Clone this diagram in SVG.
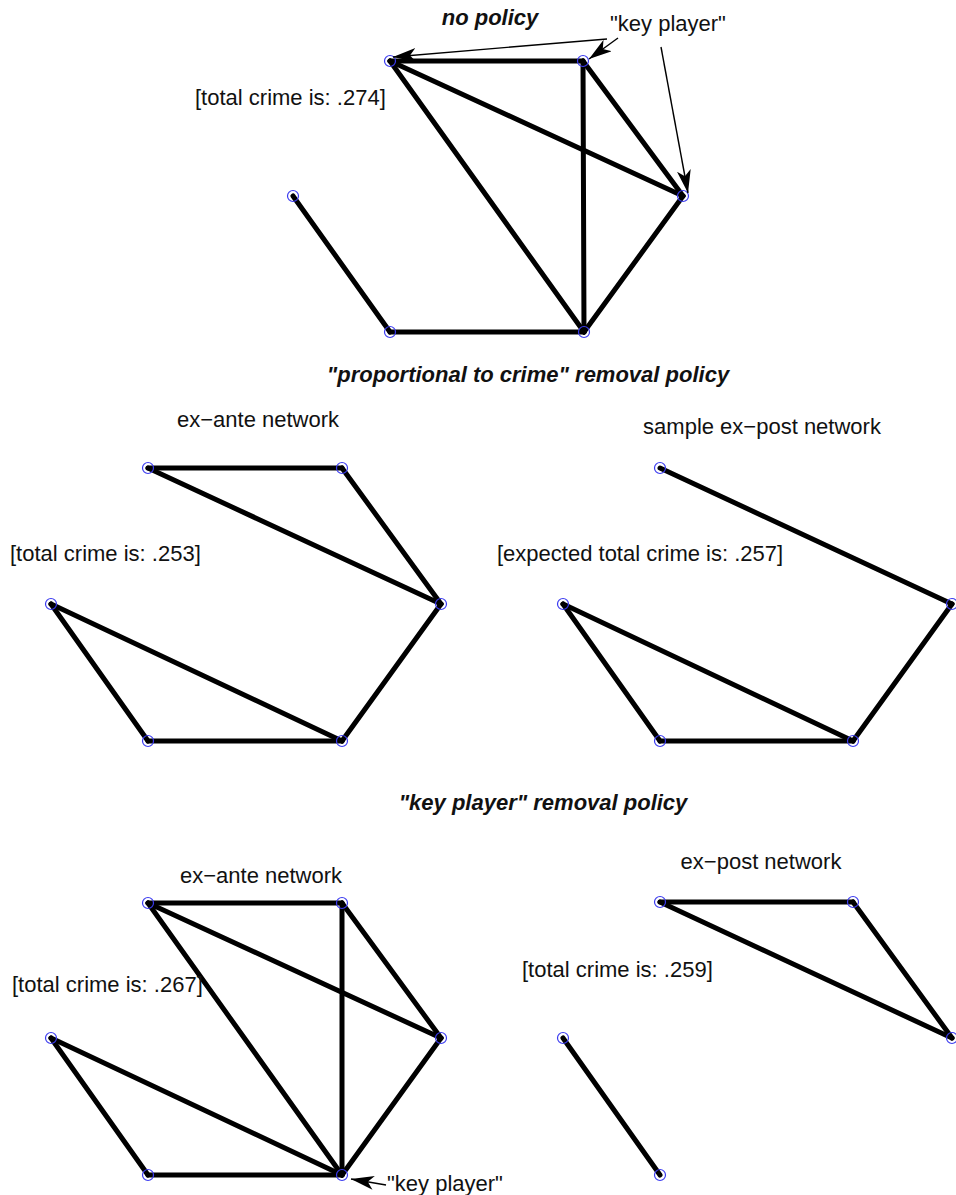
<svg xmlns="http://www.w3.org/2000/svg" width="956" height="1195" viewBox="0 0 956 1195">
<style>
.bg{fill:#ffffff}
.e{stroke:#000;stroke-width:5;stroke-linecap:round;fill:none}
.n{fill:none;stroke:#3b3bf0;stroke-width:1.2}
.lbl{font-family:"Liberation Sans",Arial,sans-serif;font-size:22px;fill:#111}
.ttl{font-family:"Liberation Sans",Arial,sans-serif;font-size:22px;font-weight:bold;font-style:italic;fill:#111}
.arr{stroke:#000;stroke-width:1.4;fill:none;marker-end:url(#ah)}
</style>
<defs>
<marker id="ah" markerUnits="userSpaceOnUse" markerWidth="24" markerHeight="14" viewBox="0 0 24 14" refX="23" refY="7" orient="auto">
<path d="M0,0 L23,7 L0,14 L6,7 Z" fill="#000"/>
</marker>
</defs>
<rect class="bg" x="0" y="0" width="956" height="1195"/>

<g id="connectors">
<line class="e" x1="390" y1="61" x2="583" y2="61"/>
<line class="e" x1="390" y1="61" x2="584" y2="332"/>
<line class="e" x1="390" y1="61" x2="683" y2="196"/>
<line class="e" x1="583" y1="61" x2="584" y2="332"/>
<line class="e" x1="583" y1="61" x2="683" y2="196"/>
<line class="e" x1="683" y1="196" x2="584" y2="332"/>
<line class="e" x1="293" y1="196" x2="390" y2="332"/>
<line class="e" x1="390" y1="332" x2="584" y2="332"/>
<line class="e" x1="148" y1="468" x2="342" y2="468"/>
<line class="e" x1="148" y1="468" x2="441" y2="604"/>
<line class="e" x1="342" y1="468" x2="441" y2="604"/>
<line class="e" x1="441" y1="604" x2="342" y2="741"/>
<line class="e" x1="51" y1="604" x2="342" y2="741"/>
<line class="e" x1="51" y1="604" x2="148" y2="741"/>
<line class="e" x1="148" y1="741" x2="342" y2="741"/>
<line class="e" x1="660" y1="468" x2="952" y2="604"/>
<line class="e" x1="952" y1="604" x2="853" y2="741"/>
<line class="e" x1="563" y1="604" x2="853" y2="741"/>
<line class="e" x1="563" y1="604" x2="660" y2="741"/>
<line class="e" x1="660" y1="741" x2="853" y2="741"/>
<line class="e" x1="148" y1="903" x2="342" y2="903"/>
<line class="e" x1="148" y1="903" x2="441" y2="1038"/>
<line class="e" x1="148" y1="903" x2="342" y2="1175"/>
<line class="e" x1="342" y1="903" x2="342" y2="1175"/>
<line class="e" x1="342" y1="903" x2="441" y2="1038"/>
<line class="e" x1="441" y1="1038" x2="342" y2="1175"/>
<line class="e" x1="51" y1="1038" x2="342" y2="1175"/>
<line class="e" x1="51" y1="1038" x2="148" y2="1175"/>
<line class="e" x1="148" y1="1175" x2="342" y2="1175"/>
<line class="e" x1="660" y1="902" x2="853" y2="902"/>
<line class="e" x1="660" y1="902" x2="952" y2="1038"/>
<line class="e" x1="853" y1="902" x2="952" y2="1038"/>
<line class="e" x1="563" y1="1038" x2="660" y2="1175"/>
</g>

<g id="nodes-top">
<circle id="t1" class="n" cx="390" cy="61" r="5.5"/>
<circle id="t2" class="n" cx="583" cy="61" r="5.5"/>
<circle id="t3" class="n" cx="683" cy="196" r="5.5"/>
<circle id="t4" class="n" cx="293" cy="196" r="5.5"/>
<circle id="t5" class="n" cx="390" cy="332" r="5.5"/>
<circle id="t6" class="n" cx="584" cy="332" r="5.5"/>
</g>
<g id="nodes-mid-left">
<circle id="m1" class="n" cx="148" cy="468" r="5.5"/>
<circle id="m2" class="n" cx="342" cy="468" r="5.5"/>
<circle id="m3" class="n" cx="441" cy="604" r="5.5"/>
<circle id="m4" class="n" cx="51" cy="604" r="5.5"/>
<circle id="m5" class="n" cx="148" cy="741" r="5.5"/>
<circle id="m6" class="n" cx="342" cy="741" r="5.5"/>
</g>
<g id="nodes-mid-right">
<circle id="r1" class="n" cx="660" cy="468" r="5.5"/>
<circle id="r3" class="n" cx="952" cy="604" r="5.5"/>
<circle id="r4" class="n" cx="563" cy="604" r="5.5"/>
<circle id="r5" class="n" cx="660" cy="741" r="5.5"/>
<circle id="r6" class="n" cx="853" cy="741" r="5.5"/>
</g>
<g id="nodes-bot-left">
<circle id="b1" class="n" cx="148" cy="903" r="5.5"/>
<circle id="b2" class="n" cx="342" cy="903" r="5.5"/>
<circle id="b3" class="n" cx="441" cy="1038" r="5.5"/>
<circle id="b4" class="n" cx="51" cy="1038" r="5.5"/>
<circle id="b5" class="n" cx="148" cy="1175" r="5.5"/>
<circle id="b6" class="n" cx="342" cy="1175" r="5.5"/>
</g>
<g id="nodes-bot-right">
<circle id="s1" class="n" cx="660" cy="902" r="5.5"/>
<circle id="s2" class="n" cx="853" cy="902" r="5.5"/>
<circle id="s3" class="n" cx="952" cy="1038" r="5.5"/>
<circle id="s4" class="n" cx="563" cy="1038" r="5.5"/>
<circle id="s5" class="n" cx="660" cy="1175" r="5.5"/>
</g>

<g id="annotations">
<line class="arr" x1="607" y1="39" x2="393" y2="57"/>
<line class="arr" x1="618" y1="38" x2="589" y2="59"/>
<line class="arr" x1="661" y1="47" x2="688" y2="193"/>
<line class="arr" x1="386" y1="1185" x2="351" y2="1179"/>
</g>

<g id="labels">
<text class="ttl" x="490" y="25" text-anchor="middle">no policy</text>
<text class="lbl" x="610" y="31">"key player"</text>
<text class="lbl" x="195" y="105">[total crime is: .274]</text>
<text class="ttl" x="528" y="382" text-anchor="middle">"proportional to crime" removal policy</text>
<text class="lbl" x="258" y="427" text-anchor="middle">ex−ante network</text>
<text class="lbl" x="762" y="434" text-anchor="middle">sample ex−post network</text>
<text class="lbl" x="10" y="561">[total crime is: .253]</text>
<text class="lbl" x="497" y="561">[expected total crime is: .257]</text>
<text class="ttl" x="543" y="810" text-anchor="middle">"key player" removal policy</text>
<text class="lbl" x="261" y="883" text-anchor="middle">ex−ante network</text>
<text class="lbl" x="761" y="869" text-anchor="middle">ex−post network</text>
<text class="lbl" x="12" y="992">[total crime is: .267]</text>
<text class="lbl" x="522" y="977">[total crime is: .259]</text>
<text class="lbl" x="387" y="1191">"key player"</text>
</g>
</svg>
